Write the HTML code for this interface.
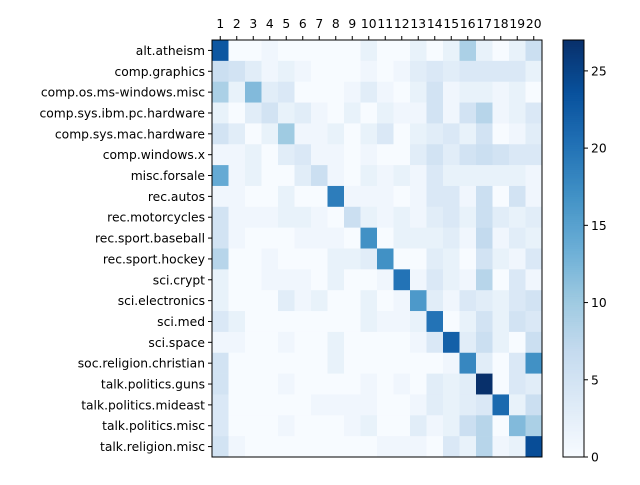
<!DOCTYPE html>
<html><head><meta charset="utf-8"><style>
body{margin:0;background:#fff;width:640px;height:480px;overflow:hidden}
svg text{font-family:"DejaVu Sans","Liberation Sans",sans-serif;font-size:12.3px;fill:#000}
</style></head><body>
<svg id="chart" width="640" height="480" xmlns="http://www.w3.org/2000/svg"></svg>
<script>
const categories=["alt.atheism","comp.graphics","comp.os.ms-windows.misc","comp.sys.ibm.pc.hardware","comp.sys.mac.hardware","comp.windows.x","misc.forsale","rec.autos","rec.motorcycles","rec.sport.baseball","rec.sport.hockey","sci.crypt","sci.electronics","sci.med","sci.space","soc.religion.christian","talk.politics.guns","talk.politics.mideast","talk.politics.misc","talk.religion.misc"];
const colLabels=["1","2","3","4","5","6","7","8","9","10","11","12","13","14","15","16","17","18","19","20"];
const matrix=[
[23,0,0,1,0,0,0,0,0,2,0,0,2,0,2,9,2,0,2,6],
[6,5,3,1,2,1,0,0,0,1,0,1,3,4,3,4,4,4,4,2],
[9,2,12,3,4,0,0,0,1,3,1,0,2,5,1,2,2,1,2,0],
[2,0,3,5,2,3,1,0,2,0,2,1,1,5,1,5,8,1,2,4],
[5,3,0,2,10,1,1,2,0,2,4,0,2,3,4,2,5,0,1,3],
[1,1,2,0,3,4,1,1,0,1,0,0,3,5,3,5,6,5,4,4],
[14,1,2,0,0,3,6,1,0,2,1,2,1,4,2,2,2,2,2,1],
[1,1,0,0,2,0,0,19,1,1,1,0,1,4,4,1,6,0,5,1],
[5,1,1,1,2,2,1,0,6,2,1,2,1,3,4,2,6,3,2,3],
[5,1,0,0,0,1,1,1,0,17,0,2,2,2,3,1,7,1,3,2],
[8,0,0,1,0,0,0,2,2,3,17,0,0,3,2,0,5,2,1,4],
[2,0,0,1,1,1,0,2,0,0,1,20,1,4,2,1,8,0,4,1],
[2,0,0,0,3,1,2,0,0,2,0,1,16,3,1,4,3,2,4,5],
[4,2,0,0,0,0,0,0,0,2,1,1,2,20,0,2,5,2,5,4],
[1,1,0,0,1,0,0,2,0,0,0,0,1,4,22,3,6,2,0,6],
[5,0,0,0,0,0,0,2,0,0,0,0,0,0,1,18,3,0,4,17],
[5,0,0,0,1,0,0,0,0,1,0,1,0,3,2,3,27,0,4,3],
[4,0,0,0,0,0,1,1,1,1,0,0,1,3,2,3,4,21,2,6],
[4,0,0,0,1,0,0,0,1,2,0,0,3,1,2,6,8,0,12,9],
[5,1,0,0,0,0,0,0,0,0,1,1,1,0,4,2,8,1,2,24]];
const cbTicks=[0,5,10,15,20,25];
const vmax=27;
const stops=["#f7fbff","#deebf7","#c6dbef","#9ecae1","#6baed6","#4292c6","#2171b5","#08519c","#08306b"];
function hex(h){return [1,3,5].map(i=>parseInt(h.substr(i,2),16));}
function blues(v){let t=Math.max(0,Math.min(1,v/vmax))*(stops.length-1);let i=Math.min(Math.floor(t),stops.length-2),f=t-i;const a=hex(stops[i]),b=hex(stops[i+1]);return "rgb("+a.map((x,k)=>Math.round(x+(b[k]-x)*f)).join(",")+")";}
const X0=212,Y0=40,W=330,H=417,n=20,cw=W/n,ch=H/n;
const xs=j=>X0+j*cw, ys=i=>Y0+i*ch;
const svg=document.getElementById('chart');const NS="http://www.w3.org/2000/svg";
function mk(t,a,p){const e=document.createElementNS(NS,t);for(const k in a)e.setAttribute(k,a[k]);(p||svg).appendChild(e);return e;}
matrix.forEach((row,i)=>row.forEach((v,j)=>{
 const r=mk('rect',{x:xs(j),y:ys(i),width:cw+0.3,height:ch+0.3,fill:blues(v)});
 
 
}));
const fr=mk('rect',{x:X0,y:Y0,width:W,height:H,fill:'none',stroke:'#000','stroke-width':1});


categories.forEach((c,i)=>{const y=ys(i)+ch/2;mk('line',{x1:X0-4,x2:X0,y1:y,y2:y,stroke:'#000'});
 const t=mk('text',{x:X0-7,y:y+4.5,'text-anchor':'end'});t.textContent=c;
 
 });
colLabels.forEach((c,j)=>{const x=xs(j)+cw/2;mk('line',{x1:x,x2:x,y1:Y0-4,y2:Y0,stroke:'#000'});
 const t=mk('text',{x:x,y:Y0-12,'text-anchor':'middle'});t.textContent=c;
 
 });
const CX=563,CW=21;
const g=mk('g',{});
for(let k=0;k<200;k++){const v0=vmax*k/200;mk('rect',{x:CX,y:Y0+H-(k+1)*H/200,width:CW,height:H/200+0.5,fill:blues(v0+vmax/400)},g);}
mk('rect',{x:CX,y:Y0,width:CW,height:H,fill:'none',stroke:'#000'},g);
cbTicks.forEach(v=>{const y=Y0+H-v/vmax*H;mk('line',{x1:CX+CW,x2:CX+CW+4,y1:y,y2:y,stroke:'#000'},g);
 const t=mk('text',{x:CX+CW+7,y:y+4.5},g);t.textContent=v;
 
 });
</script>
</body></html>
